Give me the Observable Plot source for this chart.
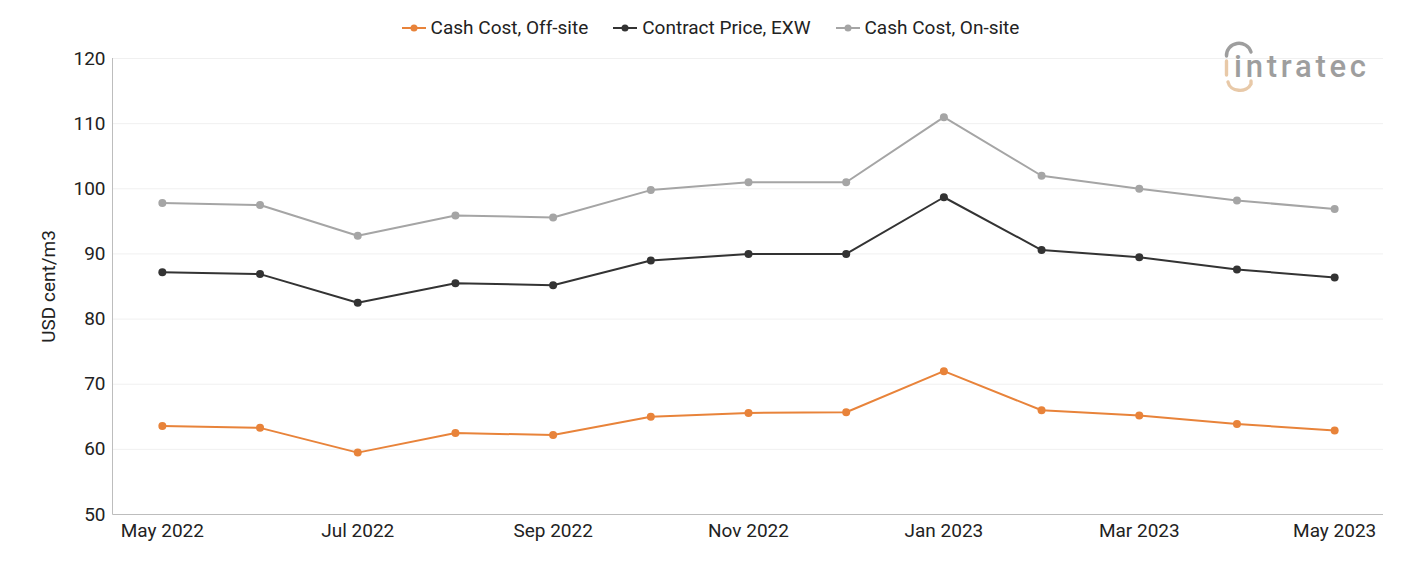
<!DOCTYPE html>
<html>
<head>
<meta charset="utf-8">
<script src="https://cdn.jsdelivr.net/npm/d3@7"></script>
<script src="https://cdn.jsdelivr.net/npm/@observablehq/plot@0.6"></script>
<style>
  body { margin: 0; background: #fff; font-family: Roboto, "Noto Sans", sans-serif; }
  #wrap { position: relative; width: 1401px; height: 561px; }
  #legend { height: 45px; display: flex; justify-content: center; align-items: center; gap: 25px;
            font-size: 19px; color: #222; padding-left: 20px; box-sizing: border-box; padding-top: 10px; }
  .item { display: flex; align-items: center; gap: 5px; }
  #logo { position: absolute; left: 1218px; top: 38px; }
</style>
</head>
<body>
<div id="wrap">
  <div id="legend"></div>
  <div id="chart"></div>
  <svg id="logo" width="160" height="62" viewBox="0 0 160 62">
    <path d="M8.5 18 A12.5 12 0 0 1 33 14" fill="none" stroke="#9e9e9e" stroke-width="3.4" stroke-linecap="round"/>
    <path d="M8.5 23 V37" fill="none" stroke="#e8c9a8" stroke-width="3.4" stroke-linecap="round"/>
    <path d="M10 44 A12 10 0 0 0 33 46 V43" fill="none" stroke="#e8c9a8" stroke-width="3.4" stroke-linecap="round"/>
    <text x="16" y="39" textLength="132" lengthAdjust="spacing" font-family="Roboto, sans-serif" font-size="31" font-weight="500" fill="#9e9e9e">intratec</text>
  </svg>
</div>
<script>
// Months on the x axis (every other one is labelled)
const months = ["May 2022", "Jun 2022", "Jul 2022", "Aug 2022", "Sep 2022", "Oct 2022", "Nov 2022",
                "Dec 2022", "Jan 2023", "Feb 2023", "Mar 2023", "Apr 2023", "May 2023"];

// Series values, USD cent/m3
const cashCostOffSite = [63.6, 63.3, 59.5, 62.5, 62.2, 65.0, 65.6, 65.7, 72.0, 66.0, 65.2, 63.9, 62.9];
const contractPriceEXW = [87.2, 86.9, 82.5, 85.5, 85.2, 89.0, 90.0, 90.0, 98.7, 90.6, 89.5, 87.6, 86.4];
const cashCostOnSite = [97.8, 97.5, 92.8, 95.9, 95.6, 99.8, 101.0, 101.0, 111.0, 102.0, 100.0, 98.2, 96.9];

const seriesNames = ["Cash Cost, Off-site", "Contract Price, EXW", "Cash Cost, On-site"];
const seriesColors = ["#e8833a", "#333333", "#a5a5a5"];
const yTicks = [50, 60, 70, 80, 90, 100, 110, 120];

const seriesValues = [cashCostOffSite, contractPriceEXW, cashCostOnSite];
const data = seriesValues.flatMap((vals, s) =>
  vals.map((v, i) => ({ month: months[i], value: v, series: seriesNames[s] })));

// Legend
const legend = document.getElementById("legend");
seriesNames.forEach((name, i) => {
  const item = document.createElement("div");
  item.className = "item";
  item.innerHTML = `<svg width="24" height="10"><line x1="0" y1="5" x2="24" y2="5" stroke="${seriesColors[i]}" stroke-width="2"/><circle cx="12" cy="5" r="3.5" fill="${seriesColors[i]}"/></svg><span>${name}</span>`;
  legend.appendChild(item);
});

// Left and bottom axis lines drawn from the plot's own dimensions
const axisLines = (index, scales, values, dim) => {
  const g = d3.create("svg:g").attr("stroke", "#bdbdbd").attr("stroke-width", 1);
  const x0 = dim.marginLeft - 0.5, x1 = dim.width - dim.marginRight;
  const y0 = dim.marginTop, y1 = dim.height - dim.marginBottom + 0.5;
  g.append("line").attr("x1", x0).attr("x2", x0).attr("y1", y0).attr("y2", y1);
  g.append("line").attr("x1", x0).attr("x2", x1).attr("y1", y1).attr("y2", y1);
  return g.node();
};

const chart = Plot.plot({
  width: 1401,
  height: 516,
  marginLeft: 113,
  marginRight: 18,
  marginTop: 13,
  marginBottom: 47,
  style: { fontFamily: "Roboto, sans-serif", fontSize: "19px", color: "#222", background: "#fff" },
  x: { type: "point", domain: months, padding: 0.5, round: false },
  y: { domain: [50, 120] },
  color: { domain: seriesNames, range: seriesColors },
  marks: [
    Plot.gridY(yTicks.filter(t => t > 50), { stroke: "#f0f0f0", strokeOpacity: 1 }),
    axisLines,
    Plot.axisX({ tickSize: 0, tickPadding: 9, label: null,
                 tickFormat: (d) => (months.indexOf(d) % 2 === 0 ? d : "") }),
    Plot.axisY({ ticks: yTicks, tickSize: 0, tickPadding: 8, label: "USD cent/m3",
                 labelAnchor: "center", labelArrow: "none", labelOffset: 72 }),
    Plot.line(data, { x: "month", y: "value", stroke: "series", strokeWidth: 2 }),
    Plot.dot(data, { x: "month", y: "value", fill: "series", r: 4 })
  ]
});
document.getElementById("chart").appendChild(chart);
</script>
</body>
</html>
